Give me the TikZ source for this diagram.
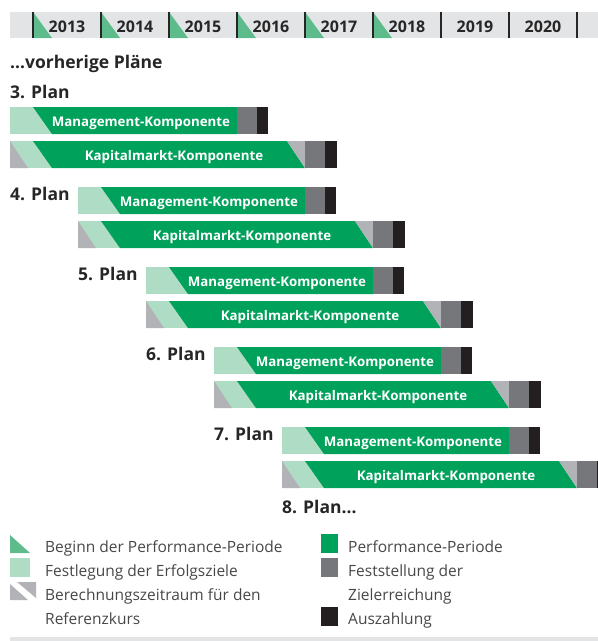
\documentclass[tikz,border=0pt]{standalone}
\usepackage{fontspec}
\setmainfont{Open Sans}
\definecolor{pgreen}{HTML}{00A15B}
\definecolor{lgreen}{HTML}{AFDCC4}
\definecolor{hgreen}{HTML}{5DBB8C}
\definecolor{dgray}{HTML}{76777A}
\definecolor{pblack}{HTML}{231F20}
\definecolor{lgray}{HTML}{B2B3B6}
\definecolor{band}{HTML}{E3E4E6}
\definecolor{dark}{HTML}{262626}
\begin{document}
\begin{tikzpicture}[x=1pt,y=-1pt,
  yr/.style={font=\bfseries\fontsize{16}{16}\selectfont, text=dark, anchor=base, inner sep=0pt},
  plan/.style={font=\bfseries\fontsize{17.5}{17.5}\selectfont, text=dark, anchor=base west, inner sep=0pt},
  bartext/.style={font=\bfseries\fontsize{13.3}{13.3}\selectfont, text=white, anchor=base, inner sep=0pt},
  leg/.style={font=\fontsize{15.5}{15.5}\selectfont, text=dark!85, anchor=base west, inner sep=0pt},
  divline/.style={draw=dark, line width=1.4pt}]
\useasboundingbox (0,0) rectangle (598,641);
\clip (0,0) rectangle (598,641);
% header band
\fill[band] (10,12) rectangle (598,38);
\foreach \i in {0,...,5} {
  \pgfmathsetmacro\dx{33+68*\i}
  \fill[hgreen] (\dx,12) -- (\dx+19,38) -- (\dx,38) -- cycle;
}
\foreach \i in {0,...,8} {
  \pgfmathsetmacro\dx{33+68*\i}
  \draw[divline] (\dx,12) -- (\dx,38);
}
\foreach \i/\yy in {0/2013,1/2014,2/2015,3/2016,4/2017,5/2018,6/2019,7/2020} {
  \pgfmathsetmacro\dx{33+68*\i+34}
  \node[yr] (y\yy) at (\dx,32) {\yy};
}
\node[plan] (prev) at (10,68) {…vorherige Pläne};
\node[plan] (pl3) at (10,98) {3. Plan};
% plans
\foreach \k in {3,...,7} {
  \pgfmathsetmacro\Y{33+68*(\k-3)}
  \pgfmathsetmacro\t{107+80*(\k-3)}
  \pgfmathsetmacro\s{\t+34}
  % management
  \fill[lgreen] (\Y-23,\t) rectangle (\Y+19,\t+27);
  \fill[pgreen] (\Y,\t) -- (\Y+204,\t) -- (\Y+204,\t+27) -- (\Y+19,\t+27) -- cycle;
  \fill[dgray] (\Y+204,\t) rectangle (\Y+224,\t+27);
  \fill[pblack] (\Y+224,\t) rectangle (\Y+235,\t+27);
  \node[bartext] (mg\k) at (\Y+108,\t+19) {Management-Komponente};
  % kapitalmarkt
  \fill[lgreen] (\Y-23,\s) rectangle (\Y+19,\s+27);
  \fill[lgray] (\Y-23,\s) -- (\Y-5,\s+27) -- (\Y-23,\s+27) -- cycle;
  \fill[pgreen] (\Y,\s) -- (\Y+254,\s) -- (\Y+272,\s+27) -- (\Y+19,\s+27) -- cycle;
  \fill[lgray] (\Y+254,\s) -- (\Y+272,\s) -- (\Y+272,\s+27) -- cycle;
  \fill[dgray] (\Y+272,\s) rectangle (\Y+292,\s+27);
  \fill[pblack] (\Y+292,\s) rectangle (\Y+304,\s+27);
  \node[bartext] (kp\k) at (\Y+141,\s+19) {Kapitalmarkt-Komponente};
}
\foreach \k in {4,...,7} {
  \pgfmathsetmacro\px{10+68*(\k-4)}
  \pgfmathsetmacro\t{107+80*(\k-3)}
  \node[plan] (pl\k) at (\px,\t+13) {\k. Plan};
}
\node[plan] (pl8) at (282,513) {8. Plan…};
% legend
\fill[hgreen] (10,535) -- (30,553) -- (10,553) -- cycle;
\fill[lgreen] (10,558) rectangle (30,577);
\fill[lgray] (10,584) -- (10,600) -- (28,600) -- cycle;
\fill[lgray] (17,582) -- (36,582) -- (36,598) -- cycle;
\fill[pgreen] (321,534) rectangle (338,553);
\fill[dgray] (321,558) rectangle (338,577);
\fill[pblack] (321,607) rectangle (338,626);
\node[leg] (l1) at (45,552) {Beginn der Performance-Periode};
\node[leg] (l2) at (45,576) {Festlegung der Erfolgsziele};
\node[leg] (l3) at (45,600) {Berechnungszeitraum für den};
\node[leg] (l4) at (45,624) {Referenzkurs};
\node[leg] (r1) at (348,552) {Performance-Periode};
\node[leg] (r2) at (348,576) {Feststellung der};
\node[leg] (r3) at (348,600) {Zielerreichung};
\node[leg] (r4) at (348,624) {Auszahlung};
\fill[band] (10,637) rectangle (598,641);
\end{tikzpicture}
\end{document}
